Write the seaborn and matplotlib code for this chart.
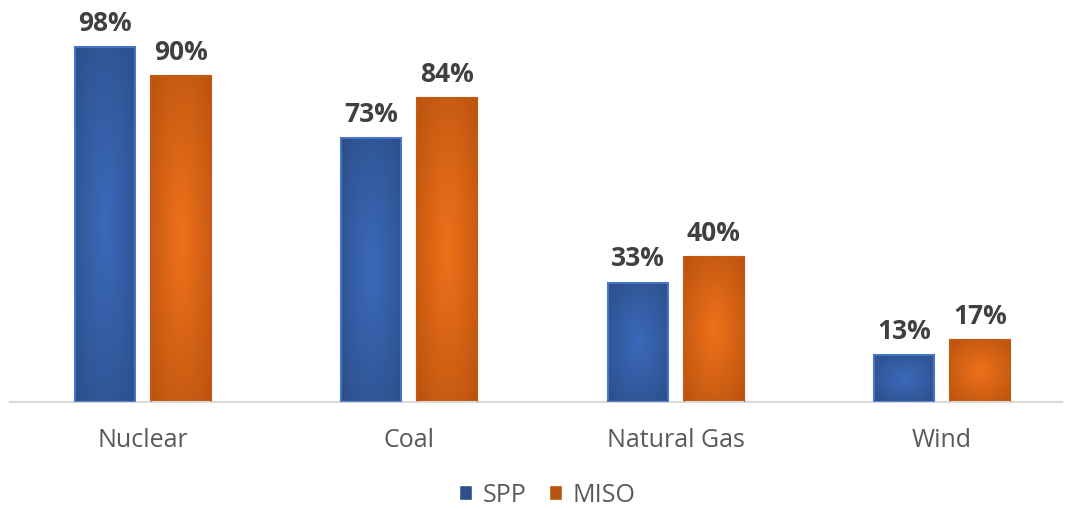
import numpy as np
import pandas as pd
import matplotlib
matplotlib.use("Agg")
import matplotlib.pyplot as plt
from matplotlib.colors import to_rgb
import seaborn as sns

categories = ["Nuclear", "Coal", "Natural Gas", "Wind"]
spp = [98, 73, 33, 13]
miso = [90, 84, 40, 17]
series = ["SPP", "MISO"]

df = pd.DataFrame({
    "Fuel": categories * 2,
    "Market": ["SPP"] * 4 + ["MISO"] * 4,
    "Value": spp + miso,
})

sns.set_theme(style="white")
plt.rcParams["font.family"] = ["Open Sans", "DejaVu Sans"]

edge_cols = {"SPP": "#2c4f8a", "MISO": "#b9530f"}
center_cols = {"SPP": "#3b69bb", "MISO": "#f0711a"}
outline_cols = {"SPP": "#4a78c8", "MISO": "#c55a11"}

fig = plt.figure(figsize=(10.65, 5.10), dpi=100)
ax = fig.add_axes([10 / 1065, 107 / 510, 1052 / 1065, 362 / 510])

sns.barplot(data=df, x="Fuel", y="Value", hue="Market", hue_order=series,
            order=categories, palette=edge_cols, width=0.571, gap=0.21,
            dodge=True, legend=True, ax=ax, saturation=1)

ax.set_ylim(0, 100)

# radial gradient fill for each bar
n = 120
u = np.linspace(-1, 1, n)
U, V = np.meshgrid(u, u)
R = np.clip(np.sqrt(U ** 2 + V ** 2) / np.sqrt(2), 0, 1)
for cont, name in zip(ax.containers, series):
    c0 = np.array(to_rgb(center_cols[name]))
    c1 = np.array(to_rgb(edge_cols[name]))
    img = c0[None, None, :] * (1 - R[..., None]) + c1[None, None, :] * R[..., None]
    for p in cont.patches:
        x0, y0 = p.get_x(), p.get_y()
        w, h = p.get_width(), p.get_height()
        im = ax.imshow(img, extent=[x0, x0 + w, y0, y0 + h], aspect="auto",
                       zorder=p.get_zorder() + 0.1, interpolation="bilinear")
        im.set_clip_path(p)
        p.set_edgecolor(outline_cols[name])
        p.set_linewidth(1.5)
    ax.bar_label(cont, labels=[f"{v:.0f}%" for v in cont.datavalues],
                 padding=8, fontsize=19, fontweight="bold", color="#404040")

# re-draw outlines on top
for cont, name in zip(ax.containers, series):
    for p in cont.patches:
        r = plt.Rectangle((p.get_x(), p.get_y()), p.get_width(), p.get_height(),
                          fill=False, edgecolor=outline_cols[name],
                          linewidth=1.3 if name == "SPP" else 0.6, zorder=5)
        ax.add_patch(r)

ax.set_xlim(-0.5, 3.451)
for s in ["top", "right", "left"]:
    ax.spines[s].set_visible(False)
ax.spines["bottom"].set_color("#d9d9d9")
ax.spines["bottom"].set_linewidth(1.5)
ax.set_yticks([])
ax.set_xlabel("")
ax.set_ylabel("")
ax.tick_params(axis="x", length=0, pad=18, labelsize=18, labelcolor="#595959")

handles, labels = ax.get_legend_handles_labels()
ax.legend_.remove()
leg = fig.legend(handles, labels, loc="center", bbox_to_anchor=(547 / 1065, 14 / 510),
                 ncol=2, frameon=False, fontsize=18, labelcolor="#595959",
                 handlelength=0.55, handleheight=0.55, handletextpad=0.4,
                 columnspacing=0.9, borderpad=0.2)

fig.savefig("out.png", dpi=100, facecolor="white")
